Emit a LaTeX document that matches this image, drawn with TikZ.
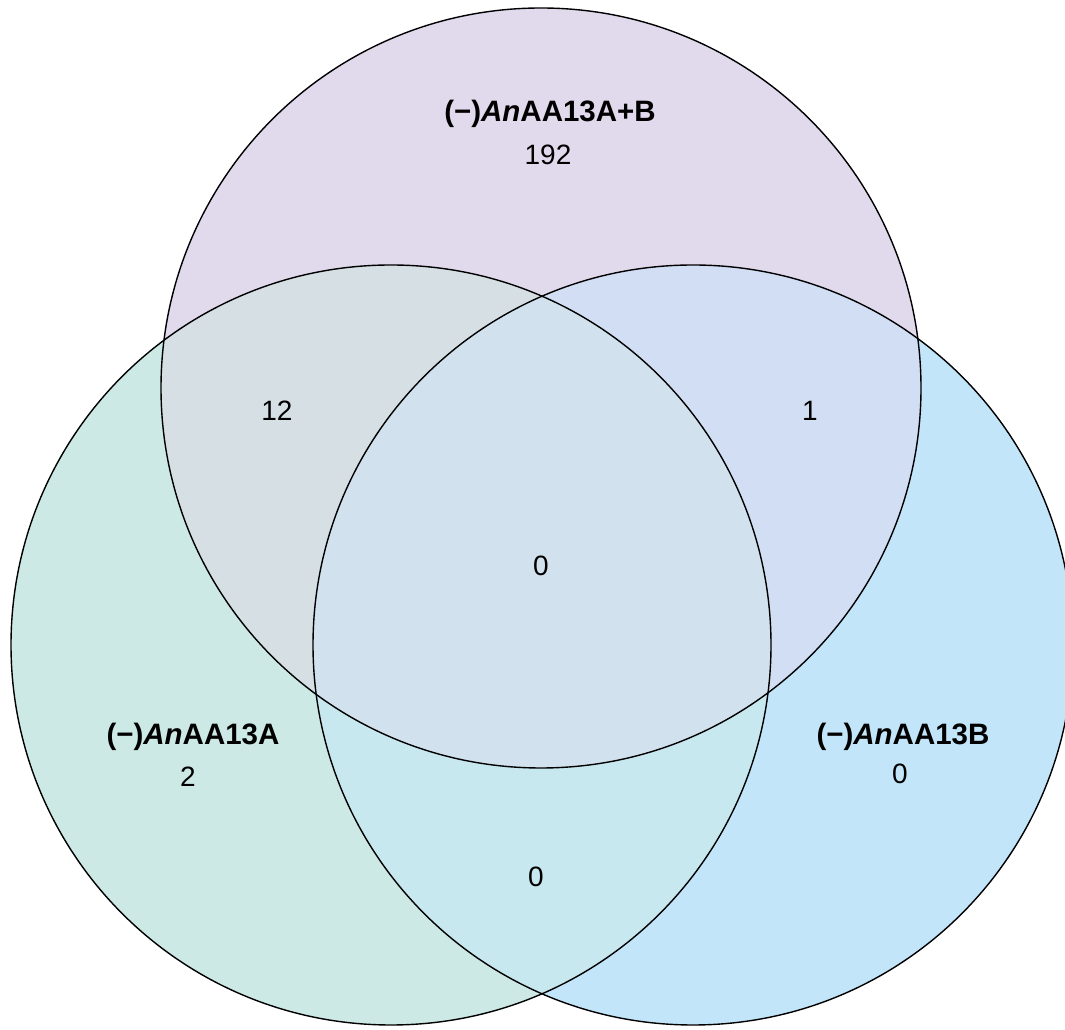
\documentclass[tikz,border=0pt]{standalone}
\usepackage{fontspec}
\setmainfont{Liberation Sans}
\definecolor{ctop}{HTML}{E1D9EC}
\definecolor{cleft}{HTML}{CDE9E5}
\definecolor{cright}{HTML}{C2E5FA}
\definecolor{ctl}{HTML}{D6E0E4}
\definecolor{ctr}{HTML}{D2DEF4}
\definecolor{clr}{HTML}{C8E8F0}
\definecolor{call}{HTML}{D1E2EE}
\begin{document}
\begin{tikzpicture}[x=1pt,y=1pt,
  lbl/.style={font=\fontsize{29.5}{33}\selectfont\bfseries, align=center, inner sep=0pt},
  num/.style={font=\fontsize{28}{32}\selectfont, inner sep=0pt},
  ring/.style={draw=black, line width=1.4pt}]
\useasboundingbox (0,0) rectangle (1065,1030);
\clip (0,0) rectangle (1065,1030);
\coordinate (T) at (541,642);
\coordinate (L) at (391,385);
\coordinate (R) at (693,385);
\fill[ctop] (T) circle (380);
\fill[cleft] (L) circle (380);
\fill[cright] (R) circle (380);
\begin{scope}\clip (T) circle (380); \fill[ctl] (L) circle (380); \end{scope}
\begin{scope}\clip (T) circle (380); \fill[ctr] (R) circle (380); \end{scope}
\begin{scope}\clip (L) circle (380); \fill[clr] (R) circle (380); \end{scope}
\begin{scope}\clip (T) circle (380); \clip (L) circle (380); \fill[call] (R) circle (380); \end{scope}
\draw[ring] (T) circle (380);
\draw[ring] (L) circle (380);
\draw[ring] (R) circle (380);
\node[lbl] (ttop) at (550,916) {(−)\textit{An}AA13A+B};
\node[num] (ntop) at (548,875) {192};
\node[lbl] (tleft) at (193,293) {(−)\textit{An}AA13A};
\node[num] (nleft) at (188,253) {2};
\node[lbl] (tright) at (903,293) {(−)\textit{An}AA13B};
\node[num] (nright) at (900,256) {0};
\node[num] (ntl) at (277,619) {12};
\node[num] (ntr) at (810,619) {1};
\node[num] (nall) at (541,464) {0};
\node[num] (nlr) at (536,153) {0};
\end{tikzpicture}
\end{document}
